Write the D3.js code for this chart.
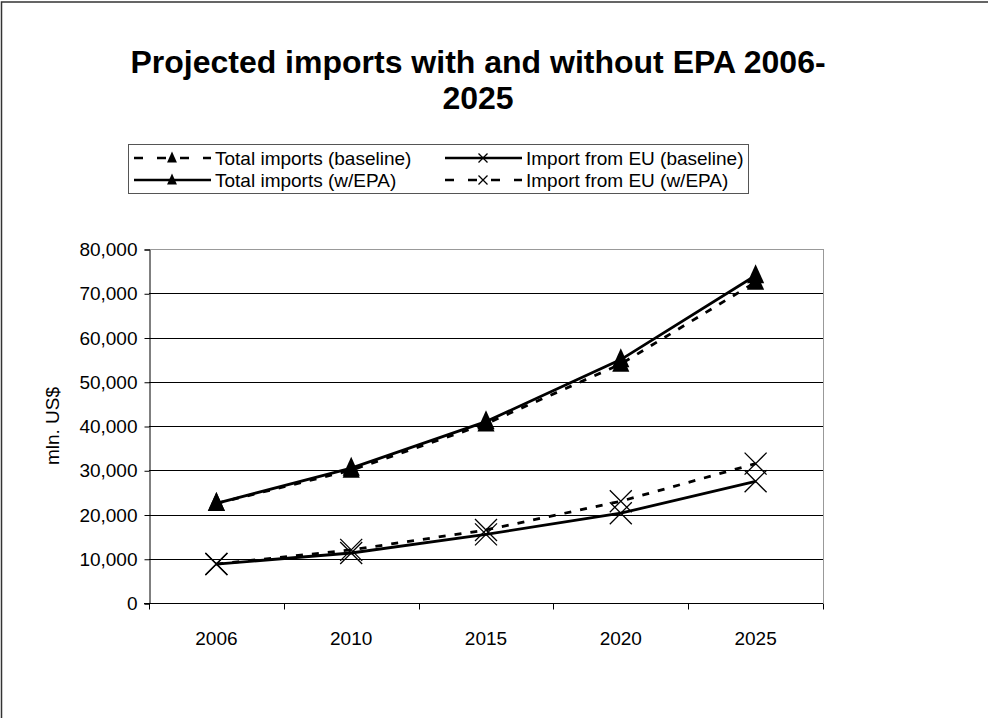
<!DOCTYPE html>
<html>
<head>
<meta charset="utf-8">
<script src="https://cdn.jsdelivr.net/npm/d3@7/dist/d3.min.js"></script>
<style>
  html, body { margin: 0; padding: 0; background: #fff; }
  svg { display: block; font-family: "Liberation Sans", Arial, sans-serif; }
</style>
</head>
<body>
<svg id="chart" width="988" height="718"></svg>
<script>
// Years on the category axis
const years = ["2006", "2010", "2015", "2020", "2025"];
// Projected values, million US$
const totalBaseline = [22500, 30000, 40500, 54000, 72500];
const totalEPA      = [22500, 30500, 41000, 55000, 74000];
const euBaseline    = [8800, 11300, 15500, 20300, 27500];
const euEPA         = [8800, 12000, 16500, 23000, 31500];
const yTicks = [0, 10000, 20000, 30000, 40000, 50000, 60000, 70000, 80000];

const series = [
  { name: "Total imports (baseline)",  values: totalBaseline, dashed: true,  marker: "tri" },
  { name: "Import from EU (baseline)", values: euBaseline,    dashed: false, marker: "x" },
  { name: "Total imports (w/EPA)",     values: totalEPA,      dashed: false, marker: "tri" },
  { name: "Import from EU (w/EPA)",    values: euEPA,         dashed: true,  marker: "x" }
];

const svg = d3.select("#chart");

// outer frame (only top and left edges fall inside the page)
svg.append("rect").attr("x", 1.5).attr("y", 2).attr("width", 1020).attr("height", 740)
  .attr("fill", "none").attr("stroke", "#333").attr("stroke-width", 1.5);

const plot = { left: 149, right: 823, top: 249, bottom: 603 };

const x = d3.scaleBand().domain(years).range([plot.left, plot.right]);
const y = d3.scaleLinear().domain([0, 80000]).range([plot.bottom, plot.top]);

// title
const title = svg.append("text").attr("text-anchor", "middle")
  .attr("font-weight", "bold").attr("font-size", 32).attr("fill", "#000");
title.append("tspan").attr("x", 478).attr("y", 73).text("Projected imports with and without EPA 2006-");
title.append("tspan").attr("x", 478).attr("y", 109).text("2025");

// gridlines
svg.append("g").selectAll("line").data(yTicks.filter(d => d > 0)).join("line")
  .attr("x1", plot.left).attr("x2", plot.right)
  .attr("y1", d => Math.round(y(d)) + 0.5).attr("y2", d => Math.round(y(d)) + 0.5)
  .attr("stroke", d => d === 80000 ? "#999" : "#000").attr("stroke-width", 1);
// right border of plot area
svg.append("line").attr("x1", plot.right + 0.5).attr("x2", plot.right + 0.5)
  .attr("y1", plot.top).attr("y2", plot.bottom).attr("stroke", "#999");

// y axis
const yAxis = d3.axisLeft(y).tickValues(yTicks).tickSize(5).tickPadding(7)
  .tickFormat(d3.format(","));
const gy = svg.append("g").attr("transform", `translate(${plot.left + 0.5},0.5)`).call(yAxis);
gy.select(".domain").attr("stroke", "#000");
gy.selectAll("text").attr("font-size", 19).attr("font-family", "Liberation Sans, Arial, sans-serif").attr("fill", "#000");

// x axis: ticks at category boundaries
const gx = svg.append("g").attr("transform", `translate(0,${plot.bottom + 0.5})`);
gx.append("line").attr("x1", plot.left - 5).attr("x2", plot.right).attr("stroke", "#000");
const bounds = years.map(d => x(d)).concat([plot.right]);
gx.selectAll("line.tk").data(bounds).join("line").attr("class", "tk")
  .attr("x1", d => Math.round(d) + 0.5).attr("x2", d => Math.round(d) + 0.5)
  .attr("y1", 0).attr("y2", 6).attr("stroke", "#000");
gx.selectAll("text").data(years).join("text")
  .attr("x", d => x(d) + x.bandwidth() / 2).attr("y", 41)
  .attr("text-anchor", "middle").attr("font-size", 19).attr("fill", "#000").text(d => d);

// y axis title
svg.append("text").attr("transform", "translate(59,426) rotate(-90)")
  .attr("text-anchor", "middle").attr("font-size", 19).attr("fill", "#000").text("mln. US$");

const cx = d => x(d) + x.bandwidth() / 2;

function drawMarker(g, type, px, py, size) {
  if (type === "tri") {
    const w = size * 0.9, h = size;
    g.append("path")
      .attr("d", `M${px},${py - h * 0.6} L${px + w / 2},${py + h * 0.4} L${px - w / 2},${py + h * 0.4} Z`)
      .attr("fill", "#000");
  } else {
    const s = size / 2;
    g.append("path")
      .attr("d", `M${px - s},${py - s} L${px + s},${py + s} M${px - s},${py + s} L${px + s},${py - s}`)
      .attr("stroke", "#000").attr("stroke-width", 1.3).attr("fill", "none");
  }
}

const line = d3.line().x((d, i) => cx(years[i])).y(d => y(d));

// draw series
series.forEach(s => {
  const g = svg.append("g");
  g.append("path").datum(s.values).attr("d", line)
    .attr("fill", "none").attr("stroke", "#000").attr("stroke-width", 2.8)
    .attr("stroke-dasharray", s.dashed ? "7,9" : null);
  s.values.forEach((v, i) => drawMarker(g, s.marker, cx(years[i]), y(v), s.marker === "tri" ? 19 : 22));
});

// legend
const legend = svg.append("g");
legend.append("rect").attr("x", 128.5).attr("y", 144.5).attr("width", 620).attr("height", 49)
  .attr("fill", "#fff").attr("stroke", "#555").attr("stroke-width", 1);
const legPos = [
  { x: 134, y: 158 }, { x: 445, y: 158 },
  { x: 134, y: 180 }, { x: 445, y: 180 }
];
series.forEach((s, i) => {
  const p = legPos[i];
  const g = legend.append("g");
  g.append("line").attr("x1", p.x).attr("x2", p.x + 77).attr("y1", p.y).attr("y2", p.y)
    .attr("stroke", "#000").attr("stroke-width", 2.6)
    .attr("stroke-dasharray", s.dashed ? "9,14" : null);
  drawMarker(g, s.marker, p.x + 38, p.y, s.marker === "tri" ? 11 : 9);
  g.append("text").attr("x", p.x + 81).attr("y", p.y + 6.5)
    .attr("font-size", 19).attr("fill", "#000").text(s.name);
});
</script>
</body>
</html>
